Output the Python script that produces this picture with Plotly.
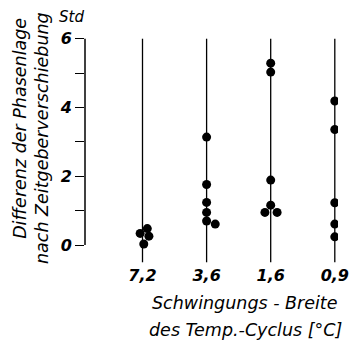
import plotly.graph_objects as go

# ---- data ----
categories = ["7,2", "3,6", "1,6", "0,9"]
values_72 = [0.34, 0.48, 0.26, 0.03]
values_36 = [3.14, 1.76, 1.24, 0.95, 0.70, 0.61]
values_16 = [5.29, 5.03, 1.89, 1.16, 0.95, 0.95]
values_09 = [4.19, 3.36, 1.23, 0.61, 0.24]
# horizontal spread of overlapping points (category units)
jitter_72 = [-0.037, 0.075, 0.10, 0.02]
jitter_36 = [0, 0, 0, 0, 0, 0.135]
jitter_16 = [0, 0, 0, 0, -0.09, 0.10]
jitter_09 = [0, 0, 0, 0, 0]
line_span = [-0.5, 6.0]
y_ticks = [0, 2, 4, 6]

groups = [values_72, values_36, values_16, values_09]
jitters = [jitter_72, jitter_36, jitter_16, jitter_09]

FONT = "DejaVu Sans"
fig = go.Figure()

for i, cat in enumerate(categories):
    fig.add_trace(go.Scatter(x=[i, i], y=line_span, mode="lines",
                             line=dict(color="black", width=1.3),
                             showlegend=False, hoverinfo="skip"))

for i, (vals, jit) in enumerate(zip(groups, jitters)):
    fig.add_trace(go.Scatter(x=[i + j for j in jit], y=vals, mode="markers",
                             marker=dict(color="black", size=9),
                             showlegend=False))

fig.update_layout(
    width=358, height=342, autosize=False,
    margin=dict(l=85, r=9, t=37, b=78),
    plot_bgcolor="white", paper_bgcolor="white",
    font=dict(family=FONT, color="black"),
    xaxis=dict(range=[-0.897, 3.05], showgrid=False, zeroline=False,
               showline=False, ticks="", ticklabeloverflow="allow",
               tickvals=list(range(len(categories))),
               ticktext=["<b><i>%s</i></b>" % c for c in categories],
               tickfont=dict(size=16, family=FONT)),
    yaxis=dict(range=[-0.55, 6.05], showgrid=False, zeroline=False,
               showline=False, ticks="outside", ticklen=9, tickwidth=1.3,
               tickcolor="black",
               tickvals=y_ticks,
               ticktext=["<b><i>%d</i></b>" % v for v in y_ticks],
               tickfont=dict(size=16, family=FONT),
               minor=dict(dtick=1, tick0=0, ticks="outside", ticklen=9,
                          tickwidth=1.3, tickcolor="black", showgrid=False)),
)

# y axis line from 0 to 6
fig.add_shape(type="line", xref="paper", yref="y", x0=0, x1=0,
              y0=y_ticks[0], y1=y_ticks[-1], line=dict(color="black", width=1.5))

ann_font = dict(family=FONT, size=17.5, color="black")
common = dict(xref="paper", yref="paper", showarrow=False,
              xanchor="center", yanchor="middle")
fig.add_annotation(text="<i>Std</i>", x=-0.053, y=1.088,
                   font=dict(family=FONT, size=15, color="black"), **common)
fig.add_annotation(text="<i>Differenz der Phasenlage</i>", textangle=-90,
                   x=-0.2576, y=0.599, font=ann_font, **common)
fig.add_annotation(text="<i>nach Zeitgeberverschiebung</i>", textangle=-90,
                   x=-0.170, y=0.555, font=ann_font, **common)
fig.add_annotation(text="<i>Schwingungs - Breite</i>",
                   x=0.633, y=-0.172, font=ann_font, **common)
fig.add_annotation(text="<i>des Temp.-Cyclus [°C]</i>",
                   x=0.633, y=-0.291, font=ann_font, **common)

fig.write_html("out.html")
